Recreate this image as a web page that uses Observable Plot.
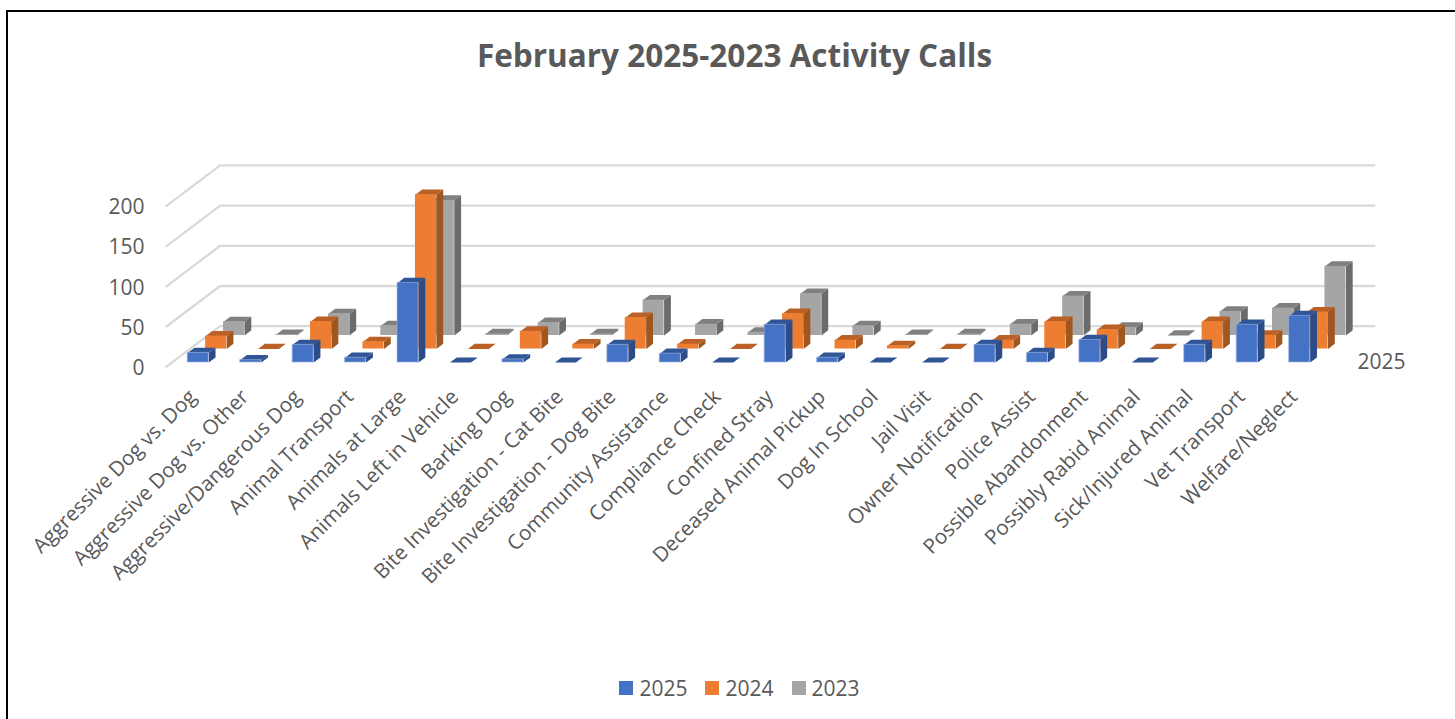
<!DOCTYPE html>
<html>
<head>
<meta charset="utf-8">
<script src="https://cdn.jsdelivr.net/npm/d3@7"></script>
<script src="https://cdn.jsdelivr.net/npm/@observablehq/plot@0.6"></script>
<style>
  html, body { margin: 0; padding: 0; background: #fff; overflow: hidden; }
  #frame { position: relative; width: 1455px; height: 719px; overflow: hidden; font-family: "Open Sans", sans-serif; color: #595959; }
  #border { position: absolute; left: 6px; top: 10px; right: -4px; bottom: -4px; border: 2px solid #000; pointer-events: none; }
  #title { height: 100px; box-sizing: border-box; padding-top: 33px; padding-left: 14px; text-align: center; font-size: 31.5px; line-height: 44px; font-weight: 700; }
  #chart svg { display: block; }
  #legend { position: absolute; left: 0; right: 0; top: 673px; display: flex; justify-content: center; font-size: 21px; line-height: 30px; gap: 18px; padding-left: 24px; box-sizing: border-box; }
  #legend span { display: flex; align-items: center; gap: 6px; }
  #legend i { display: block; width: 14px; height: 14px; }
</style>
</head>
<body>
<div id="frame">
  <div id="border"></div>
  <div id="title">February 2025-2023 Activity Calls</div>
  <div id="chart"></div>
  <div id="legend"></div>
</div>
<script>
const categories = ["Aggressive Dog vs. Dog","Aggressive Dog vs. Other","Aggressive/Dangerous Dog","Animal Transport","Animals at Large","Animals Left in Vehicle","Barking Dog","Bite Investigation - Cat Bite","Bite Investigation - Dog Bite","Community Assistance","Compliance Check","Confined Stray","Deceased Animal Pickup","Dog In School","Jail Visit","Owner Notification","Police Assist","Possible Abandonment","Possibly Rabid Animal","Sick/Injured Animal","Vet Transport","Welfare/Neglect"];
const series = ["2025","2024","2023"];
const values2025 = [12,3,22,6,99,0,4,0,22,11,0,47,6,0,0,22,12,28,0,22,47,58];
const values2024 = [16,0,34,9,192,0,22,6,39,6,0,44,11,4,0,11,34,24,0,34,17,46];
const values2023 = [17,1,27,12,168,2,16,2,44,14,4,52,12,1,2,14,49,10,0,30,34,86];
const seriesValues = [values2025, values2024, values2023];
const frontColors = ["#4472C4","#ED7D31","#A5A5A5"];
const topColors = ["#2F5597","#BC6125","#808080"];
const sideColors = ["#2B4C87","#A0561F","#6B6B6B"];
const yTicks = [0,50,100,150,200];

// oblique projection, in scale units
const slotX = 0.341, slotY = 16.8;      // one series slot of depth
const barW = 0.40;                      // bar width
const front = 0.31, back = 0.69;        // bar extent inside its slot
const project = (x, v, d) => [x + d * slotX, v + d * slotY];

const faces = (s) => {
  const tops = [], sides = [], fronts = [];
  categories.forEach((c, i) => {
    const v = seriesValues[s][i];
    const xl = i - barW / 2, xr = i + barW / 2;
    const d0 = s + front, d1 = s + back;
    const poly = (id, pts, fill, out) => pts.forEach(p => out.push({id, x: p[0], y: p[1], fill}));
    poly(`t${i}`, [project(xl,v,d0),project(xr,v,d0),project(xr,v,d1),project(xl,v,d1)], topColors[s], tops);
    poly(`s${i}`, [project(xr,0,d0),project(xr,v,d0),project(xr,v,d1),project(xr,0,d1)], sideColors[s], sides);
    const a = project(xl,0,d0), b = project(xr,v,d0);
    fronts.push({category: c, x1: a[0], x2: b[0], y1: a[1], y2: b[1]});
  });
  return {tops, sides, fronts};
};

// back wall grid: front-left corner -> back-left corner -> right end
const gridStartX = -0.5, gridEndX = 22.53;
const grid = yTicks.flatMap(t => [
  {t, x: gridStartX, y: t},
  {t, x: gridStartX + 3 * slotX, y: t + 3 * slotY},
  {t, x: gridEndX, y: t + 3 * slotY}
]);

const barMarks = [2,1,0].flatMap(s => {
  const f = faces(s);
  return [
    Plot.line(f.sides, {x:"x", y:"y", z:"id", fill:"fill", stroke:"none", curve:"linear-closed"}),
    Plot.line(f.tops, {x:"x", y:"y", z:"id", fill:"fill", stroke:"none", curve:"linear-closed"}),
    Plot.rect(f.fronts, {x1:"x1", x2:"x2", y1:"y1", y2:"y2", fill: frontColors[s], stroke:"#9db4e0", strokeOpacity: s === 0 ? 0.6 : 0, strokeWidth: 1, title:"category"})
  ];
});

const plot = Plot.plot({
  width: 1455, height: 560,
  marginTop: 0, marginLeft: 0, marginRight: 0, marginBottom: 267,
  style: {background: "transparent", fontFamily: '"Open Sans", sans-serif', overflow: "visible"},
  x: {domain: [0, 21], range: [192.2, 1293.6], axis: null},
  y: {domain: [0, 200], range: [266.2, 105.4], axis: null},
  color: {type: "identity"},
  marks: [
    Plot.line(grid, {x:"x", y:"y", z:"t", stroke:"#D9D9D9", strokeWidth:2.3}),
    Plot.axisY(yTicks, {x:-0.92, anchor:"left", tickSize:0, tickPadding:0, fontSize:21, fill:"#595959", label:null, dy:1.5}),
    ...barMarks,
    Plot.text([series[0]], {x:[22.21], y:[5], text:d=>d, textAnchor:"start", fontSize:21, fill:"#595959"}),
    Plot.axisX(d3.range(categories.length), {anchor:"bottom", tickSize:0, tickPadding:0, tickRotate:-45, tickFormat:i=>categories[i], textAnchor:"end", fontSize:20.6, fill:"#595959", label:null})
  ]
});
document.getElementById("chart").append(plot);

const legend = d3.select("#legend");
series.forEach((s, i) => {
  const item = legend.append("span");
  item.append("i").style("background", frontColors[i]);
  item.append("b").style("font-weight", 400).text(s);
});
</script>
</body>
</html>
